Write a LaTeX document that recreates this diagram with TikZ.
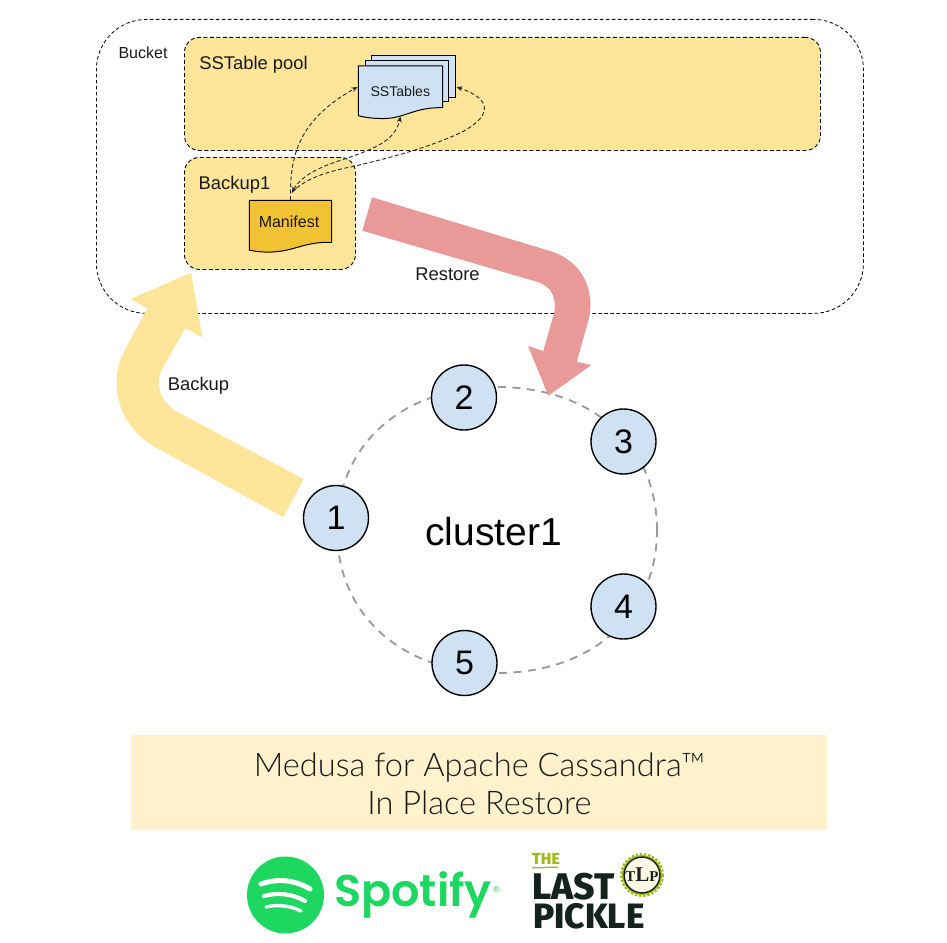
\documentclass[tikz,border=0pt]{standalone}
\usepackage{fontspec}
\setmainfont{Liberation Sans}
\newfontfamily\titlefont{Lato Light}
\newfontfamily\spotfont{Poppins SemiBold}
\newfontfamily\pickfont{Fira Sans ExtraBold}
\newfontfamily\sealfont{Liberation Serif}
\usetikzlibrary{arrows.meta,shapes.geometric}
\definecolor{padyellow}{HTML}{FFE599}
\definecolor{padred}{HTML}{EA9999}
\definecolor{padblue}{HTML}{CFE2F3}
\definecolor{mangold}{HTML}{F1C232}
\definecolor{titlebg}{HTML}{FFF2CC}
\definecolor{spotgreen}{HTML}{1ED760}
\definecolor{pickdark}{HTML}{14241C}
\definecolor{pickgreen}{HTML}{A3B81C}
\definecolor{ringgrey}{HTML}{999999}
\tikzset{
  x=1pt,y=-1pt,
  fs/.style={font=\fontsize{#1}{#1}\selectfont},
  zone/.style={draw=black,line width=0.9pt,dash pattern=on 4pt off 2.5pt,fill=padyellow},
  label/.style={anchor=center,text=black!90,inner sep=0pt},
  doc/.style={draw=black,line width=1pt},
  link/.style={draw=black!85,line width=0.9pt,dash pattern=on 4pt off 2.5pt,-{Stealth[length=6pt,width=5pt]}},
  member/.style={circle,draw=black,line width=1.4pt,fill=padblue,minimum size=65pt,inner sep=0pt,fs=34},
  picktext/.style={inner sep=0pt,text depth=0pt},
}
\begin{document}
\begin{tikzpicture}
\useasboundingbox (0,0) rectangle (947,942);
\fill[white] (0,0) rectangle (947,942);
% bucket
\node[draw=black,line width=0.8pt,dash pattern=on 3.5pt off 2.5pt,rounded corners=50pt,minimum width=767pt,minimum height=294pt,anchor=north west,inner sep=0pt] (bucket) at (96,19) {};
\node[zone,rounded corners=15pt,minimum width=636pt,minimum height=113pt,anchor=north west,inner sep=0pt] (pool) at (184,37) {};
\node[zone,rounded corners=15pt,minimum width=171pt,minimum height=112pt,anchor=north west,inner sep=0pt] (backup) at (184,157) {};
\node[label,fs=16] (bucketlabel) at (143,53) {Bucket};
\node[label,fs=18.4] (poollabel) at (253.5,65) {SSTable pool};
\node[label,fs=18.4] (backuplabel) at (234.5,185) {Backup1};
% SSTables stacked documents
\draw[doc,fill=padblue] (371,56) -- (455.7,56) -- (455.7,97.3) -- (371,97.3) -- cycle;
\draw[doc,fill=padblue] (365,61) -- (448.7,61) -- (448.7,101.7) -- (365,101.7) -- cycle;
\draw[doc,fill=padblue] (358.3,66) -- (442.7,66) -- (442.7,107.7)
   .. controls (415,107) and (405,118) .. (385,118.5) .. controls (375,118.8) and (365,117.5) .. (358.3,115.7) -- cycle;
\node[label,fs=14.1] (sst) at (400.3,91) {SSTables};
% Manifest
\draw[doc,fill=mangold] (249.3,200.3) -- (331.7,200.3) -- (331.7,242.3)
   .. controls (305,241.5) and (295,251) .. (272,252) .. controls (262,252.3) and (255,251.5) .. (249.3,250) -- cycle;
\node[label,fs=16] (manifest) at (289,222) {Manifest};
% connector ends
\coordinate (mtop) at (290.5,200);
\coordinate (mhead) at (292,192.5);
\coordinate (sstleft) at (357.5,87);
\coordinate (sstbottom) at (400.5,116.5);
\coordinate (sstright) at (456.5,87);
\draw[link] (mtop) .. controls (290,160) and (295,122) .. (sstleft);
\draw[link,{Stealth[length=6pt,width=5pt]}-{Stealth[length=6pt,width=5pt]}] (mhead) .. controls (302,174) and (325,165) .. (346.7,158.3) .. controls (370,150) and (395,142) .. (sstbottom);
\draw[link] (mhead) .. controls (305,178) and (330,171) .. (352,166.7) .. controls (390,158) and (430,147) .. (460,133) .. controls (490,118) and (495,100) .. (sstright);
% ring
\draw[ringgrey,line width=1.8pt,dash pattern=on 8pt off 6.5pt]
  (657,530) .. controls (657,445.8) and (593,387) .. (497,387)
  .. controls (401,387) and (337,445.8) .. (337,530)
  .. controls (337,614.2) and (401,673) .. (497,673)
  .. controls (593,673) and (657,614.2) .. (657,530);
\node[member] (n1) at (336,518) {1};
\node[member] (n2) at (464,397.5) {2};
\node[member] (n3) at (623.5,441.5) {3};
\node[member] (n4) at (623.5,606.5) {4};
\node[member] (n5) at (464.5,663) {5};
\node[label,fs=39,text=black] (cluster) at (493.5,532) {cluster1};
% big arrows
\fill[padyellow] (303.7,479) -- (176.7,411.7) .. controls (160,402) and (154,383) .. (163.3,366.7)
  -- (185.3,328.3) -- (202.3,337.3) -- (191,272.7) -- (130.7,299) -- (147.3,308.3) -- (125,350)
  .. controls (106,385) and (120,428) .. (156.7,448) -- (283.3,517) -- cycle;
\fill[padred] (372,197.3) -- (550,251) .. controls (580,260) and (597,288) .. (588,322)
  -- (576.7,361.7) -- (591.3,365) -- (548.3,395.7) -- (528,346) -- (543.3,351) -- (553.5,315)
  .. controls (558,300) and (552,286) .. (536.7,281.7) -- (362.3,230.7) -- cycle;
\node[label,fs=18.4] (backuptext) at (198.5,385.5) {Backup};
\node[label,fs=18.4] (restoretext) at (447.5,274.5) {Restore};
% title
\node[fill=titlebg,minimum width=696pt,minimum height=95pt,anchor=north west,inner sep=0pt] (titlebox) at (131,735) {};
\node[font=\titlefont\fontsize{32.6}{38}\selectfont,align=center,text=black!90,inner sep=0pt] (title) at (479.5,783.5) {Medusa for Apache Cassandra™\\In Place Restore};
% Spotify logo
\node[circle,fill=spotgreen,minimum size=77pt,inner sep=0pt] (spotcircle) at (285.5,895) {};
\draw[white,line width=5pt,line cap=round] (261,884) .. controls (278,878) and (295,880) .. (310,889);
\draw[white,line width=4.2pt,line cap=round] (264,896) .. controls (278,892) and (293,894) .. (305,901);
\draw[white,line width=3.4pt,line cap=round] (266,907) .. controls (279,904) and (291,906) .. (301,911);
\node[font=\spotfont\fontsize{44.5}{46}\selectfont,text=spotgreen,anchor=west,inner sep=0pt] (spottext) at (334,895) {Spotify};
\node[font=\fontsize{9}{9}\selectfont,text=spotgreen,inner sep=0pt] (spotreg) at (496.5,889) {®};
% The Last Pickle logo
\node[picktext,font=\pickfont\fontsize{16}{16}\selectfont,text=pickgreen,anchor=south west] (the) at (532,865) {THE};
\draw[pickgreen,line width=1.4pt] (532,867.5) .. controls (540,868.5) and (550,866.5) .. (558,867.5);
\node[picktext,font=\pickfont\fontsize{37}{37}\selectfont,text=pickdark,anchor=south west] (last) at (532.5,899.5) {LAST};
\node[picktext,font=\pickfont\fontsize{35.2}{35.2}\selectfont,text=pickdark,anchor=south west] (pickle) at (533,929) {PICKLE};
\draw[pickgreen,line width=2pt,dash pattern=on 2.4pt off 1.8pt] (642,875) circle[radius=21];
\fill[pickgreen] (642,875) circle[radius=20];
\node[circle,draw=pickdark,line width=1.4pt,fill=titlebg!50,minimum size=33pt,inner sep=0pt,font=\sealfont\bfseries\fontsize{15}{15}\selectfont,text=pickdark] (seal) at (642,875) {T{\fontsize{21}{21}\selectfont L}P};
\end{tikzpicture}
\end{document}
